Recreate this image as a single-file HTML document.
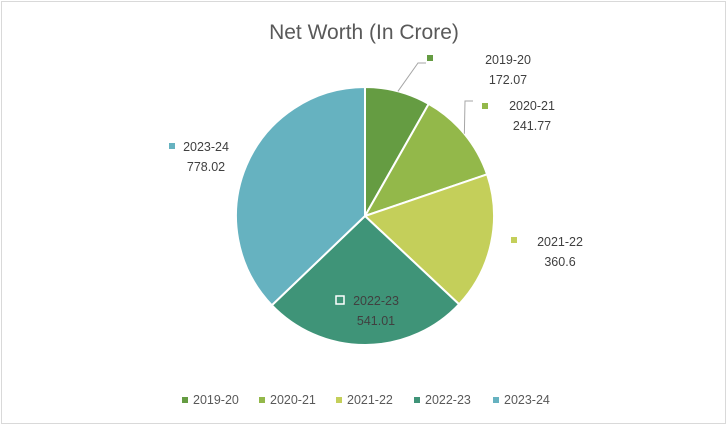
<!DOCTYPE html>
<html><head><meta charset="utf-8"><style>
body{margin:0;background:#fff;}
svg{display:block;font-family:"Liberation Sans",sans-serif;}
</style></head><body>
<svg width="728" height="426">
<rect x="1.5" y="1.5" width="724" height="422" fill="#fff" stroke="#d9d9d9"/>
<text x="364" y="39" text-anchor="middle" font-size="21" fill="#595959">Net Worth (In Crore)</text>
<g id="pie"></g>
<g id="labels"></g>
<g id="legend"></g>
</svg>
<script>
const categories=["2019-20","2020-21","2021-22","2022-23","2023-24"];
const values=[172.07,241.77,360.6,541.01,778.02];
const valueLabels=["172.07","241.77","360.6","541.01","778.02"];
const colors=["#659c42","#93b84a","#c4cf5a","#3f9478","#66b2c0"];
const NS="http://www.w3.org/2000/svg";
const cx=365,cy=216,r=129;
const total=values.reduce((a,b)=>a+b,0);
function pt(a,rr){return [cx+rr*Math.sin(a),cy-rr*Math.cos(a)];}
const pie=document.getElementById('pie');
let a0=0;const mids=[];
values.forEach((v,i)=>{
  const a1=a0+v/total*2*Math.PI;
  const p0=pt(a0,r),p1=pt(a1,r);
  const large=(a1-a0)>Math.PI?1:0;
  const p=document.createElementNS(NS,'path');
  p.setAttribute('d',`M${cx},${cy}L${p0[0]},${p0[1]}A${r},${r} 0 ${large} 1 ${p1[0]},${p1[1]}Z`);
  p.setAttribute('fill',colors[i]);p.setAttribute('stroke','#fff');p.setAttribute('stroke-width','2');
  
  
  pie.appendChild(p);
  mids.push((a0+a1)/2);a0=a1;
});
// label layout positions (box marker x, y of first line)
const lab=[[430,58,484,64],[485,106,508,110],[514,240,536,246],[340,300,352,305],[172,146,182,151]];
const lg=document.getElementById('labels');
lab.forEach((l,i)=>{
  const m=document.createElementNS(NS,'rect');
  m.setAttribute('x',l[0]-3);m.setAttribute('y',l[1]-3);m.setAttribute('width',6);m.setAttribute('height',6);
  if(i===3){m.setAttribute('fill','#fff');m.setAttribute('stroke','#fff');m.setAttribute('x',l[0]-4);m.setAttribute('y',l[1]-4);m.setAttribute('width',8);m.setAttribute('height',8);m.setAttribute('stroke','#fff');m.setAttribute('stroke-width','1.5');m.setAttribute('fill','none');}
  else m.setAttribute('fill',colors[i]);
  
  
  lg.appendChild(m);
  const t=document.createElementNS(NS,'text');
  t.setAttribute('font-size','12.5');t.setAttribute('fill',i===3?'#404040':'#404040');
  t.setAttribute('text-anchor','middle');
  const tx=l[2]+24;
  t.innerHTML=`<tspan x="${tx}" y="${l[3]}">${categories[i]}</tspan><tspan x="${tx}" y="${l[3]+20}">${valueLabels[i]}</tspan>`;
  
  
  lg.appendChild(t);
});
// leader lines
[[0,[[408,88],[418,63],[426,63]]],[1,[[461,110],[465,101],[473,101]]]].forEach(([i,ps])=>{
  const pl=document.createElementNS(NS,'polyline');
  const e=pt(mids[i],r);
  pl.setAttribute('points',[[e[0],e[1]]].concat(ps.slice(1)).map(p=>p.join(',')).join(' '));
  pl.setAttribute('fill','none');pl.setAttribute('stroke','#a6a6a6');
  
  
  lg.appendChild(pl);
});
const leg=document.getElementById('legend');
const lx=[186,263,340,418,497];
categories.forEach((c,i)=>{
  const g=document.createElementNS(NS,'g');
  
  
  g.innerHTML=`<rect x="${lx[i]-4}" y="397" width="6" height="6" fill="${colors[i]}"/><text x="${lx[i]+7}" y="404" font-size="12.5" fill="#595959">${c}</text>`;
  leg.appendChild(g);
});
</script>
</body></html>
